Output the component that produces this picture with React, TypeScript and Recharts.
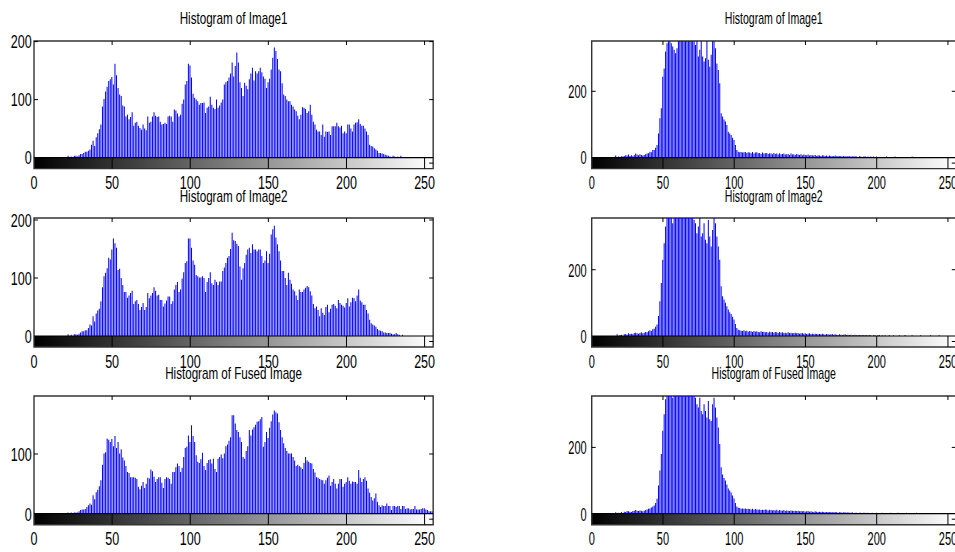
import React from 'react';
import { BarChart, Bar, XAxis, YAxis, ReferenceArea, ReferenceLine } from 'recharts';

// grey levels 0..255
const bins = Array.from({ length: 256 }, (_, i) => i);
const xTicks = [0, 50, 100, 150, 200, 250];

const img1Counts = [
  0, 0, 0, 0, 0, 0, 0, 0, 0, 0, 0, 0, 0, 0, 0, 0,
  0, 0, 0, 0, 0, 0, 3, 0, 2, 0, 3, 3, 2, 4, 6, 6,
  8, 10, 10, 12, 14, 22, 29, 20, 35, 42, 49, 57, 88, 101, 114, 122,
  132, 135, 139, 126, 162, 142, 120, 109, 106, 90, 88, 71, 74, 66, 70, 78,
  55, 60, 62, 55, 51, 48, 57, 50, 47, 71, 60, 62, 71, 78, 72, 70,
  71, 62, 57, 58, 60, 58, 71, 72, 71, 62, 83, 81, 76, 71, 74, 93,
  100, 126, 132, 162, 159, 138, 110, 103, 100, 97, 91, 94, 94, 95, 77, 86,
  88, 105, 91, 86, 84, 100, 86, 90, 95, 100, 126, 130, 132, 138, 145, 164,
  140, 158, 181, 164, 130, 120, 106, 129, 124, 118, 135, 145, 155, 133, 149, 145,
  149, 155, 147, 140, 136, 120, 130, 136, 152, 172, 190, 184, 170, 152, 149, 128,
  109, 106, 100, 97, 97, 91, 88, 83, 80, 72, 66, 74, 87, 86, 84, 77,
  80, 91, 74, 62, 57, 48, 45, 45, 39, 57, 36, 45, 44, 45, 39, 54,
  54, 54, 60, 54, 52, 55, 42, 45, 42, 57, 57, 50, 45, 57, 60, 61,
  66, 58, 55, 55, 50, 45, 39, 22, 20, 19, 16, 14, 12, 8, 8, 7,
  6, 5, 4, 3, 2, 0, 3, 2, 0, 2, 0, 3, 0, 0, 0, 0,
  0, 0, 0, 0, 0, 0, 0, 0, 0, 0, 0, 0, 0, 0, 0, 0,
];

const img2Counts = [
  0, 0, 0, 0, 0, 0, 0, 0, 0, 0, 0, 0, 0, 0, 0, 0,
  0, 0, 0, 0, 0, 0, 3, 0, 2, 0, 3, 3, 2, 4, 6, 8,
  8, 10, 10, 14, 20, 18, 34, 25, 39, 44, 47, 60, 84, 103, 109, 117,
  135, 132, 149, 168, 160, 152, 114, 116, 100, 88, 76, 76, 66, 70, 74, 78,
  55, 60, 62, 55, 45, 50, 57, 45, 50, 74, 65, 70, 74, 84, 78, 70,
  71, 62, 62, 51, 56, 61, 68, 68, 55, 60, 80, 88, 93, 76, 80, 99,
  110, 126, 129, 168, 168, 152, 130, 123, 105, 103, 101, 101, 103, 100, 76, 93,
  100, 110, 91, 88, 97, 93, 88, 94, 94, 112, 118, 126, 135, 138, 150, 178,
  165, 164, 159, 155, 120, 97, 117, 126, 140, 149, 152, 143, 158, 149, 149, 146,
  149, 149, 138, 126, 130, 146, 126, 142, 175, 184, 190, 170, 158, 146, 130, 112,
  112, 100, 88, 109, 97, 90, 80, 77, 70, 62, 80, 76, 76, 80, 83, 86,
  84, 77, 70, 55, 48, 51, 45, 34, 48, 40, 36, 50, 54, 41, 47, 54,
  55, 52, 48, 62, 57, 54, 52, 49, 57, 65, 51, 58, 66, 65, 60, 70,
  80, 61, 58, 54, 54, 45, 39, 28, 22, 20, 18, 16, 12, 10, 9, 8,
  6, 6, 5, 5, 5, 4, 3, 3, 5, 3, 2, 0, 2, 0, 0, 0,
  0, 0, 0, 0, 0, 0, 0, 0, 0, 0, 0, 0, 0, 0, 0, 0,
];

const fusedCounts = [
  0, 0, 0, 0, 0, 0, 0, 0, 0, 0, 0, 0, 0, 0, 0, 0,
  0, 0, 0, 0, 0, 0, 2, 0, 2, 0, 2, 2, 2, 4, 6, 7,
  7, 8, 11, 14, 17, 15, 31, 24, 36, 40, 46, 56, 82, 101, 103, 126,
  124, 120, 125, 113, 130, 110, 120, 101, 108, 94, 89, 80, 70, 68, 61, 61,
  61, 60, 58, 45, 41, 47, 53, 43, 50, 60, 59, 74, 71, 62, 53, 58,
  61, 61, 52, 43, 58, 61, 60, 58, 50, 70, 70, 78, 84, 80, 70, 77,
  95, 110, 112, 131, 120, 148, 130, 120, 98, 87, 85, 91, 102, 80, 73, 85,
  90, 91, 84, 92, 75, 70, 92, 95, 99, 93, 101, 113, 116, 122, 128, 165,
  165, 151, 140, 137, 128, 120, 95, 92, 105, 113, 140, 131, 141, 145, 149, 154,
  155, 158, 162, 112, 120, 137, 127, 144, 155, 166, 173, 170, 168, 153, 140, 128,
  118, 110, 105, 101, 101, 101, 95, 89, 80, 82, 80, 78, 75, 85, 95, 89,
  87, 85, 84, 75, 69, 61, 60, 58, 57, 56, 50, 56, 60, 64, 47, 53,
  58, 50, 42, 50, 58, 58, 45, 50, 53, 61, 55, 50, 54, 53, 53, 50,
  73, 60, 53, 58, 61, 55, 42, 35, 28, 22, 26, 34, 20, 14, 11, 14,
  13, 13, 17, 13, 13, 6, 13, 13, 11, 13, 13, 8, 13, 13, 8, 9,
  9, 7, 8, 8, 13, 7, 7, 7, 8, 9, 9, 7, 6, 4, 4, 4,
];

const img1RightCounts = [
  0, 0, 0, 0, 0, 0, 0, 0, 0, 0, 0, 0, 0, 0, 0, 0,
  0, 6, 0, 3, 0, 4, 3, 5, 7, 6, 9, 5, 7, 4, 8, 12,
  9, 7, 10, 8, 6, 8, 10, 12, 13, 18, 16, 23, 23, 30, 38, 73,
  119, 149, 244, 269, 320, 345, 390, 380, 345, 335, 325, 315, 330, 400, 420, 410,
  430, 400, 420, 440, 410, 430, 400, 380, 370, 340, 360, 305, 325, 370, 305, 290,
  300, 360, 295, 274, 310, 380, 370, 330, 284, 264, 224, 134, 124, 115, 109, 98,
  78, 73, 68, 60, 53, 38, 23, 18, 16, 17, 15, 16, 17, 14, 16, 15,
  13, 17, 12, 15, 16, 13, 14, 11, 15, 12, 13, 14, 11, 13, 12, 10,
  14, 11, 12, 9, 13, 10, 11, 12, 9, 10, 11, 8, 12, 9, 10, 8,
  11, 9, 8, 10, 7, 9, 8, 7, 9, 6, 8, 7, 6, 8, 5, 7,
  6, 5, 7, 6, 5, 6, 4, 6, 5, 4, 5, 6, 4, 5, 4, 5,
  3, 5, 4, 3, 5, 4, 3, 4, 3, 4, 3, 2, 4, 3, 2, 3,
  4, 2, 3, 2, 3, 2, 3, 2, 3, 0, 2, 0, 2, 0, 0, 3,
  0, 2, 2, 0, 0, 3, 0, 0, 0, 0, 2, 0, 0, 0, 0, 0,
  0, 3, 0, 0, 0, 0, 0, 0, 0, 2, 0, 0, 0, 0, 0, 0,
  0, 0, 0, 2, 0, 0, 0, 0, 0, 0, 0, 0, 0, 0, 0, 0,
];

const img2RightCounts = [
  0, 0, 0, 0, 0, 0, 0, 0, 0, 0, 0, 0, 0, 0, 0, 0,
  0, 0, 5, 0, 3, 4, 0, 5, 6, 4, 8, 6, 7, 5, 9, 10,
  8, 7, 9, 11, 8, 10, 12, 11, 14, 17, 15, 20, 22, 28, 35, 60,
  105, 160, 230, 280, 330, 370, 400, 390, 360, 340, 380, 410, 420, 400, 430, 440,
  420, 400, 430, 410, 390, 380, 360, 380, 350, 340, 310, 330, 360, 300, 310, 340,
  290, 280, 350, 300, 270, 320, 360, 340, 300, 270, 230, 150, 120, 110, 100, 90,
  80, 72, 66, 58, 50, 36, 24, 19, 17, 16, 15, 17, 14, 16, 13, 15,
  14, 12, 15, 13, 14, 12, 11, 14, 12, 13, 11, 12, 10, 13, 11, 12,
  10, 12, 11, 9, 12, 10, 11, 9, 10, 8, 11, 9, 10, 8, 9, 10,
  8, 9, 7, 8, 9, 7, 8, 6, 7, 8, 6, 7, 5, 7, 6, 5,
  6, 5, 7, 5, 4, 6, 5, 4, 5, 6, 4, 5, 4, 3, 5, 4,
  3, 4, 5, 3, 4, 3, 4, 2, 3, 4, 2, 3, 3, 2, 3, 2,
  3, 2, 2, 3, 2, 0, 3, 2, 0, 2, 3, 0, 2, 0, 2, 0,
  0, 3, 0, 0, 2, 0, 0, 0, 2, 0, 0, 0, 3, 0, 0, 0,
  0, 2, 0, 0, 0, 0, 0, 2, 0, 0, 0, 0, 0, 0, 2, 0,
  0, 0, 0, 0, 2, 0, 0, 0, 0, 0, 0, 0, 0, 0, 0, 0,
];

const fusedRightCounts = [
  0, 0, 0, 0, 0, 0, 0, 0, 0, 0, 0, 0, 0, 0, 0, 0,
  0, 4, 0, 3, 2, 5, 0, 6, 5, 8, 7, 6, 5, 8, 9, 11,
  9, 8, 10, 9, 7, 9, 11, 13, 15, 16, 19, 22, 25, 32, 45, 85,
  130, 180, 250, 300, 345, 380, 410, 395, 370, 350, 360, 400, 430, 410, 420, 450,
  430, 410, 440, 420, 400, 410, 390, 370, 360, 350, 330, 320, 350, 310, 300, 330,
  310, 290, 340, 285, 280, 330, 350, 320, 290, 260, 210, 140, 118, 108, 100, 88,
  76, 70, 64, 55, 46, 32, 22, 18, 17, 15, 16, 15, 16, 14, 15, 14,
  13, 15, 12, 14, 13, 12, 13, 11, 12, 11, 13, 12, 10, 12, 11, 10,
  11, 10, 12, 9, 11, 10, 9, 11, 8, 10, 9, 8, 10, 9, 8, 9,
  8, 9, 7, 8, 7, 8, 6, 7, 8, 6, 7, 6, 5, 7, 6, 5,
  6, 5, 6, 5, 4, 5, 5, 4, 5, 4, 4, 5, 4, 3, 4, 4,
  3, 4, 4, 3, 4, 3, 3, 4, 2, 3, 3, 2, 3, 3, 2, 3,
  3, 2, 3, 2, 2, 3, 2, 2, 3, 2, 2, 2, 3, 2, 2, 2,
  2, 2, 3, 2, 2, 2, 2, 3, 2, 2, 2, 2, 2, 3, 2, 2,
  2, 2, 2, 2, 3, 2, 2, 2, 2, 2, 2, 2, 2, 2, 2, 2,
  2, 2, 2, 2, 2, 2, 2, 2, 2, 2, 2, 2, 2, 2, 1, 1,
];

const FONT = "'Liberation Sans', Arial, Helvetica, sans-serif";
const X_MAX = 255.5;
const CBAR_PX = 11;

const columns = {
  L: { colLeft: 0, frameLeft: 34, frameRight: 433.2, sx: 0.66, titleSx: 0.727, gap: 2.3 },
  R: { colLeft: 545, frameLeft: 591.7, frameRight: 955.8, sx: 0.58, titleSx: 0.66, gap: 5 },
};

const panels = [
  { id: 'l1', col: 'L', title: 'Histogram of Image1', counts: img1Counts, frameTop: 40.7, zeroY: 157.3, ppu: 0.58, yTicks: [0, 100, 200] },
  { id: 'l2', col: 'L', title: 'Histogram of Image2', counts: img2Counts, frameTop: 218.3, zeroY: 336.3, ppu: 0.58, yTicks: [0, 100, 200] },
  { id: 'l3', col: 'L', title: 'Histogram of Fused Image', counts: fusedCounts, frameTop: 396, zeroY: 513.7, ppu: 0.597, yTicks: [0, 100] },
  { id: 'r1', col: 'R', title: 'Histogram of Image1', counts: img1RightCounts, frameTop: 40.7, zeroY: 157.3, ppu: 0.3315, yTicks: [0, 200] },
  { id: 'r2', col: 'R', title: 'Histogram of Image2', counts: img2RightCounts, frameTop: 218.3, zeroY: 336.3, ppu: 0.3315, yTicks: [0, 200] },
  { id: 'r3', col: 'R', title: 'Histogram of Fused Image', counts: fusedRightCounts, frameTop: 396, zeroY: 513.7, ppu: 0.3315, yTicks: [0, 200] },
];

function Panel({ p }) {
  const c = columns[p.col];
  const pad = 10;
  const yMax = (p.zeroY - p.frameTop) / p.ppu;
  const yMin = -CBAR_PX / p.ppu;
  const pxPerBin = (c.frameRight - c.frameLeft) / X_MAX;
  const tickX = 4 / pxPerBin;
  const tickY = 4 / p.ppu;
  const data = bins.map((b, i) => ({ bin: b, v: p.counts[i] }));
  const width = c.frameRight - c.colLeft + pad;
  const plotH = p.zeroY + CBAR_PX - p.frameTop;
  const height = pad + plotH + 30;

  const yTick = (props) => (
    <g transform={`translate(${props.x},${props.y}) scale(${c.sx},1)`}>
      <text x={0} y={0} dy="0.36em" textAnchor="end" fontSize={19} fontFamily={FONT} fill="#000">
        {props.payload.value}
      </text>
    </g>
  );
  const xTick = (props) => (
    <g transform={`translate(${props.x},${props.y}) scale(${c.sx},1)`}>
      <text x={0} y={0} dy="0.72em" textAnchor="middle" fontSize={19} fontFamily={FONT} fill="#000">
        {props.payload.value}
      </text>
    </g>
  );

  return (
    <div style={{ position: 'absolute', left: c.colLeft, top: p.frameTop - pad }}>
      <BarChart width={width} height={height} data={data}
        margin={{ top: pad, right: pad, bottom: 0, left: 0 }} barCategoryGap={0}>
        <defs>
          <linearGradient id={`cb-${p.id}`} x1="0" y1="0" x2="1" y2="0">
            <stop offset="0" stopColor="#000000" />
            <stop offset="1" stopColor="#ffffff" />
          </linearGradient>
        </defs>
        <XAxis dataKey="bin" type="number" domain={[0, X_MAX]} ticks={xTicks} interval={0}
          allowDataOverflow axisLine={false} tickLine={false} tickSize={0} tickMargin={7}
          height={30} tick={xTick} />
        <YAxis type="number" domain={[yMin, yMax]} ticks={p.yTicks} interval={0}
          allowDataOverflow axisLine={false} tickLine={false} tickSize={0} tickMargin={c.gap}
          width={c.frameLeft - c.colLeft} tick={yTick} />
        <ReferenceArea x1={0} x2={X_MAX} y1={yMin} y2={0} fill={`url(#cb-${p.id})`} fillOpacity={1} stroke="none" />
        <Bar dataKey="v" fill="#0000ff" barSize={1} isAnimationActive={false} />
        {xTicks.filter((t) => t > 0).map((t) => (
          <ReferenceLine key={`cb${t}`} segment={[{ x: t, y: yMin }, { x: t, y: 0 }]} stroke="#000" strokeWidth={1} />
        ))}
        {xTicks.filter((t) => t > 0).map((t) => (
          <ReferenceLine key={`tt${t}`} segment={[{ x: t, y: yMax }, { x: t, y: yMax - tickY }]} stroke="#000" strokeWidth={1} />
        ))}
        {p.yTicks.filter((t) => t > 0).map((t) => (
          <ReferenceLine key={`yl${t}`} segment={[{ x: 0, y: t }, { x: tickX, y: t }]} stroke="#000" strokeWidth={1} />
        ))}
        {p.yTicks.filter((t) => t > 0).map((t) => (
          <ReferenceLine key={`yr${t}`} segment={[{ x: X_MAX - tickX, y: t }, { x: X_MAX, y: t }]} stroke="#000" strokeWidth={1} />
        ))}
        <ReferenceLine segment={[{ x: X_MAX - tickX, y: yMin / 2 }, { x: X_MAX, y: yMin / 2 }]} stroke="#000" strokeWidth={1} />
        <ReferenceLine y={0} stroke="#000" strokeWidth={1.2} />
        <ReferenceArea x1={0} x2={X_MAX} y1={yMin} y2={yMax} fill="none" stroke="#333" strokeWidth={1.4} />
      </BarChart>
    </div>
  );
}

export default function App() {
  return (
    <div style={{ position: 'absolute', left: 0, top: 0, width: 955, height: 552, overflow: 'hidden', background: '#fff' }}>
      {panels.map((p) => <Panel key={p.id} p={p} />)}
      <svg width={955} height={552} style={{ position: 'absolute', left: 0, top: 0, pointerEvents: 'none' }}>
        {panels.map((p) => {
          const c = columns[p.col];
          const cx = (c.frameLeft + Math.min(c.frameRight, 955.8)) / 2;
          return (
            <text key={p.id} transform={`translate(${cx},${p.frameTop - 16.7}) scale(${c.titleSx},1)`}
              textAnchor="middle" fontSize={16} fontFamily={FONT} fill="#000">
              {p.title}
            </text>
          );
        })}
      </svg>
    </div>
  );
}
